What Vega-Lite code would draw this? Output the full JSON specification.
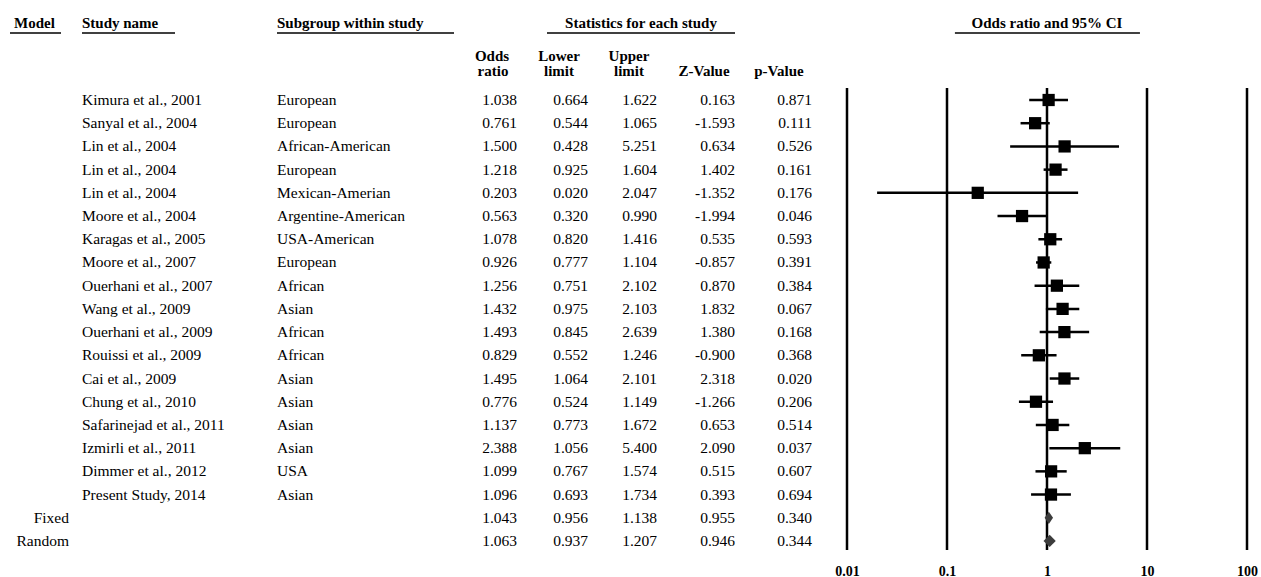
{
  "$schema": "https://vega.github.io/schema/vega-lite/v6.json",
  "padding": 0,
  "spacing": 0,
  "bounds": "flush",
  "background": "white",
  "config": {
    "view": {"stroke": null},
    "font": "'Liberation Serif', 'Times New Roman', serif",
    "text": {"font": "'Liberation Serif', 'Times New Roman', serif", "color": "black"},
    "locale": {"number": {"decimal": ".", "thousands": ",", "grouping": [3], "currency": ["$", ""], "minus": "-"}}
  },
  "datasets": {
    "studies": [
      {"row": 1, "kind": "study", "model": "", "study": "Kimura et al., 2001", "subgroup": "European", "or": 1.038, "lower": 0.664, "upper": 1.622, "z": 0.163, "p": 0.871},
      {"row": 2, "kind": "study", "model": "", "study": "Sanyal et al., 2004", "subgroup": "European", "or": 0.761, "lower": 0.544, "upper": 1.065, "z": -1.593, "p": 0.111},
      {"row": 3, "kind": "study", "model": "", "study": "Lin et al., 2004", "subgroup": "African-American", "or": 1.500, "lower": 0.428, "upper": 5.251, "z": 0.634, "p": 0.526},
      {"row": 4, "kind": "study", "model": "", "study": "Lin et al., 2004", "subgroup": "European", "or": 1.218, "lower": 0.925, "upper": 1.604, "z": 1.402, "p": 0.161},
      {"row": 5, "kind": "study", "model": "", "study": "Lin et al., 2004", "subgroup": "Mexican-Amerian", "or": 0.203, "lower": 0.020, "upper": 2.047, "z": -1.352, "p": 0.176},
      {"row": 6, "kind": "study", "model": "", "study": "Moore et al., 2004", "subgroup": "Argentine-American", "or": 0.563, "lower": 0.320, "upper": 0.990, "z": -1.994, "p": 0.046},
      {"row": 7, "kind": "study", "model": "", "study": "Karagas et al., 2005", "subgroup": "USA-American", "or": 1.078, "lower": 0.820, "upper": 1.416, "z": 0.535, "p": 0.593},
      {"row": 8, "kind": "study", "model": "", "study": "Moore et al., 2007", "subgroup": "European", "or": 0.926, "lower": 0.777, "upper": 1.104, "z": -0.857, "p": 0.391},
      {"row": 9, "kind": "study", "model": "", "study": "Ouerhani et al., 2007", "subgroup": "African", "or": 1.256, "lower": 0.751, "upper": 2.102, "z": 0.870, "p": 0.384},
      {"row": 10, "kind": "study", "model": "", "study": "Wang et al., 2009", "subgroup": "Asian", "or": 1.432, "lower": 0.975, "upper": 2.103, "z": 1.832, "p": 0.067},
      {"row": 11, "kind": "study", "model": "", "study": "Ouerhani et al., 2009", "subgroup": "African", "or": 1.493, "lower": 0.845, "upper": 2.639, "z": 1.380, "p": 0.168},
      {"row": 12, "kind": "study", "model": "", "study": "Rouissi et al., 2009", "subgroup": "African", "or": 0.829, "lower": 0.552, "upper": 1.246, "z": -0.900, "p": 0.368},
      {"row": 13, "kind": "study", "model": "", "study": "Cai et al., 2009", "subgroup": "Asian", "or": 1.495, "lower": 1.064, "upper": 2.101, "z": 2.318, "p": 0.020},
      {"row": 14, "kind": "study", "model": "", "study": "Chung et al., 2010", "subgroup": "Asian", "or": 0.776, "lower": 0.524, "upper": 1.149, "z": -1.266, "p": 0.206},
      {"row": 15, "kind": "study", "model": "", "study": "Safarinejad et al., 2011", "subgroup": "Asian", "or": 1.137, "lower": 0.773, "upper": 1.672, "z": 0.653, "p": 0.514},
      {"row": 16, "kind": "study", "model": "", "study": "Izmirli et al., 2011", "subgroup": "Asian", "or": 2.388, "lower": 1.056, "upper": 5.400, "z": 2.090, "p": 0.037},
      {"row": 17, "kind": "study", "model": "", "study": "Dimmer et al., 2012", "subgroup": "USA", "or": 1.099, "lower": 0.767, "upper": 1.574, "z": 0.515, "p": 0.607},
      {"row": 18, "kind": "study", "model": "", "study": "Present Study, 2014", "subgroup": "Asian", "or": 1.096, "lower": 0.693, "upper": 1.734, "z": 0.393, "p": 0.694},
      {"row": 19, "kind": "pooled", "model": "Fixed", "study": "", "subgroup": "", "or": 1.043, "lower": 0.956, "upper": 1.138, "z": 0.955, "p": 0.340},
      {"row": 20, "kind": "pooled", "model": "Random", "study": "", "subgroup": "", "or": 1.063, "lower": 0.937, "upper": 1.207, "z": 0.946, "p": 0.344}
    ],
    "gridlines": [{"v": 0.01}, {"v": 0.1}, {"v": 1}, {"v": 10}, {"v": 100}],
    "one": [{"k": 1}]
  },
  "hconcat": [
    {
      "width": 847,
      "height": 550,
      "layer": [
        {"data": {"name": "studies"}, "mark": {"type": "text", "align": "right", "baseline": "middle", "fontSize": 15.5},
         "encoding": {"x": {"datum": 69, "type": "quantitative", "scale": {"domain": [0, 847], "nice": false, "zero": false}, "axis": null},
                      "y": {"field": "row", "type": "quantitative", "scale": {"domain": [-3.3084, 20.388], "reverse": true, "nice": false, "zero": false}, "axis": null},
                      "text": {"field": "model"}}},
        {"data": {"name": "studies"}, "mark": {"type": "text", "align": "left", "baseline": "middle", "fontSize": 15.5},
         "encoding": {"x": {"datum": 82, "type": "quantitative"}, "y": {"field": "row", "type": "quantitative"}, "text": {"field": "study"}}},
        {"data": {"name": "studies"}, "mark": {"type": "text", "align": "left", "baseline": "middle", "fontSize": 15.5},
         "encoding": {"x": {"datum": 277, "type": "quantitative"}, "y": {"field": "row", "type": "quantitative"}, "text": {"field": "subgroup"}}},
        {"data": {"name": "studies"}, "mark": {"type": "text", "align": "right", "baseline": "middle", "fontSize": 15.5},
         "encoding": {"x": {"datum": 517, "type": "quantitative"}, "y": {"field": "row", "type": "quantitative"}, "text": {"field": "or", "type": "quantitative", "format": ".3f"}}},
        {"data": {"name": "studies"}, "mark": {"type": "text", "align": "right", "baseline": "middle", "fontSize": 15.5},
         "encoding": {"x": {"datum": 588, "type": "quantitative"}, "y": {"field": "row", "type": "quantitative"}, "text": {"field": "lower", "type": "quantitative", "format": ".3f"}}},
        {"data": {"name": "studies"}, "mark": {"type": "text", "align": "right", "baseline": "middle", "fontSize": 15.5},
         "encoding": {"x": {"datum": 657, "type": "quantitative"}, "y": {"field": "row", "type": "quantitative"}, "text": {"field": "upper", "type": "quantitative", "format": ".3f"}}},
        {"data": {"name": "studies"}, "mark": {"type": "text", "align": "right", "baseline": "middle", "fontSize": 15.5},
         "encoding": {"x": {"datum": 735, "type": "quantitative"}, "y": {"field": "row", "type": "quantitative"}, "text": {"field": "z", "type": "quantitative", "format": ".3f"}}},
        {"data": {"name": "studies"}, "mark": {"type": "text", "align": "right", "baseline": "middle", "fontSize": 15.5},
         "encoding": {"x": {"datum": 812, "type": "quantitative"}, "y": {"field": "row", "type": "quantitative"}, "text": {"field": "p", "type": "quantitative", "format": ".3f"}}},
        {"data": {"name": "one"}, "mark": {"type": "text", "align": "left", "baseline": "middle", "fontSize": 15, "fontWeight": "bold", "text": "Model"},
         "encoding": {"x": {"datum": 14, "type": "quantitative"}, "y": {"datum": -2.3175, "type": "quantitative"}}},
        {"data": {"name": "one"}, "mark": {"type": "text", "align": "left", "baseline": "middle", "fontSize": 15, "fontWeight": "bold", "text": "Study name"},
         "encoding": {"x": {"datum": 82, "type": "quantitative"}, "y": {"datum": -2.3175, "type": "quantitative"}}},
        {"data": {"name": "one"}, "mark": {"type": "text", "align": "left", "baseline": "middle", "fontSize": 15, "fontWeight": "bold", "text": "Subgroup within study"},
         "encoding": {"x": {"datum": 277, "type": "quantitative"}, "y": {"datum": -2.3175, "type": "quantitative"}}},
        {"data": {"name": "one"}, "mark": {"type": "text", "align": "center", "baseline": "middle", "fontSize": 15, "fontWeight": "bold", "text": "Statistics for each study"},
         "encoding": {"x": {"datum": 641, "type": "quantitative"}, "y": {"datum": -2.3175, "type": "quantitative"}}},
        {"data": {"name": "one"}, "mark": {"type": "text", "align": "center", "baseline": "middle", "fontSize": 15, "fontWeight": "bold", "text": "Odds"},
         "encoding": {"x": {"datum": 492, "type": "quantitative"}, "y": {"datum": -0.8957, "type": "quantitative"}}},
        {"data": {"name": "one"}, "mark": {"type": "text", "align": "center", "baseline": "middle", "fontSize": 15, "fontWeight": "bold", "text": "ratio"},
         "encoding": {"x": {"datum": 493, "type": "quantitative"}, "y": {"datum": -0.2495, "type": "quantitative"}}},
        {"data": {"name": "one"}, "mark": {"type": "text", "align": "center", "baseline": "middle", "fontSize": 15, "fontWeight": "bold", "text": "Lower"},
         "encoding": {"x": {"datum": 559, "type": "quantitative"}, "y": {"datum": -0.8957, "type": "quantitative"}}},
        {"data": {"name": "one"}, "mark": {"type": "text", "align": "center", "baseline": "middle", "fontSize": 15, "fontWeight": "bold", "text": "limit"},
         "encoding": {"x": {"datum": 559, "type": "quantitative"}, "y": {"datum": -0.2495, "type": "quantitative"}}},
        {"data": {"name": "one"}, "mark": {"type": "text", "align": "center", "baseline": "middle", "fontSize": 15, "fontWeight": "bold", "text": "Upper"},
         "encoding": {"x": {"datum": 629, "type": "quantitative"}, "y": {"datum": -0.8957, "type": "quantitative"}}},
        {"data": {"name": "one"}, "mark": {"type": "text", "align": "center", "baseline": "middle", "fontSize": 15, "fontWeight": "bold", "text": "limit"},
         "encoding": {"x": {"datum": 629, "type": "quantitative"}, "y": {"datum": -0.2495, "type": "quantitative"}}},
        {"data": {"name": "one"}, "mark": {"type": "text", "align": "center", "baseline": "middle", "fontSize": 15, "fontWeight": "bold", "text": "Z-Value"},
         "encoding": {"x": {"datum": 704, "type": "quantitative"}, "y": {"datum": -0.2495, "type": "quantitative"}}},
        {"data": {"name": "one"}, "mark": {"type": "text", "align": "center", "baseline": "middle", "fontSize": 15, "fontWeight": "bold", "text": "p-Value"},
         "encoding": {"x": {"datum": 779, "type": "quantitative"}, "y": {"datum": -0.2495, "type": "quantitative"}}},
        {"data": {"name": "one"}, "mark": {"type": "rule", "color": "black", "strokeWidth": 1.5},
         "encoding": {"x": {"datum": 10, "type": "quantitative"}, "x2": {"datum": 61}, "y": {"datum": -1.8866, "type": "quantitative"}}},
        {"data": {"name": "one"}, "mark": {"type": "rule", "color": "black", "strokeWidth": 1.5},
         "encoding": {"x": {"datum": 82, "type": "quantitative"}, "x2": {"datum": 175}, "y": {"datum": -1.8866, "type": "quantitative"}}},
        {"data": {"name": "one"}, "mark": {"type": "rule", "color": "black", "strokeWidth": 1.5},
         "encoding": {"x": {"datum": 277, "type": "quantitative"}, "x2": {"datum": 454}, "y": {"datum": -1.8866, "type": "quantitative"}}},
        {"data": {"name": "one"}, "mark": {"type": "rule", "color": "black", "strokeWidth": 1.5},
         "encoding": {"x": {"datum": 547, "type": "quantitative"}, "x2": {"datum": 735}, "y": {"datum": -1.8866, "type": "quantitative"}}}
      ]
    },
    {
      "width": 400,
      "height": 550,
      "layer": [
        {"data": {"name": "gridlines"}, "mark": {"type": "rule", "color": "black", "strokeWidth": 2.5},
         "encoding": {
           "x": {"field": "v", "type": "quantitative",
                 "scale": {"type": "log", "domain": [0.01, 100], "nice": false},
                 "axis": {"values": [0.01, 0.1, 1, 10, 100], "format": "~g", "title": null, "grid": false, "ticks": false, "tickSize": 0, "domain": false,
                          "labelFont": "'Liberation Serif', 'Times New Roman', serif", "labelFontWeight": "bold", "labelFontSize": 14, "labelColor": "black", "labelPadding": 14, "labelFlush": false, "labelOverlap": false}},
           "y": {"datum": 0.483, "type": "quantitative", "scale": {"domain": [-3.3084, 20.388], "reverse": true, "nice": false, "zero": false}, "axis": null},
           "y2": {"datum": 20.388}}},
        {"data": {"name": "studies"}, "transform": [{"filter": "datum.kind == 'study'"}],
         "mark": {"type": "rule", "color": "black", "strokeWidth": 2.5},
         "encoding": {"x": {"field": "lower", "type": "quantitative"}, "x2": {"field": "upper"}, "y": {"field": "row", "type": "quantitative"}}},
        {"data": {"name": "studies"}, "transform": [{"filter": "datum.kind == 'study'"}],
         "mark": {"type": "point", "shape": "square", "filled": true, "color": "black", "size": 150, "opacity": 1},
         "encoding": {"x": {"field": "or", "type": "quantitative"}, "y": {"field": "row", "type": "quantitative"}}},
        {"data": {"name": "studies"}, "transform": [{"filter": "datum.kind == 'pooled'"}],
         "mark": {"type": "point", "filled": true, "color": "#3c3c3c", "size": 150, "opacity": 1},
         "encoding": {"x": {"field": "or", "type": "quantitative"}, "y": {"field": "row", "type": "quantitative"},
                      "shape": {"field": "model", "type": "nominal", "scale": {"domain": ["Fixed", "Random"], "range": ["M-0.69,0L0,-1L0.69,0L0,1Z", "M-1,0L0,-1L1,0L0,1Z"]}, "legend": null}}},
        {"data": {"name": "one"}, "mark": {"type": "text", "align": "center", "baseline": "middle", "fontSize": 15, "fontWeight": "bold", "text": "Odds ratio and 95% CI"},
         "encoding": {"x": {"datum": 1, "type": "quantitative"}, "y": {"datum": -2.3175, "type": "quantitative"}}},
        {"data": {"name": "one"}, "mark": {"type": "rule", "color": "black", "strokeWidth": 1.5},
         "encoding": {"x": {"datum": 0.12, "type": "quantitative"}, "x2": {"datum": 8.5}, "y": {"datum": -1.8866, "type": "quantitative"}}}
      ]
    }
  ]
}
